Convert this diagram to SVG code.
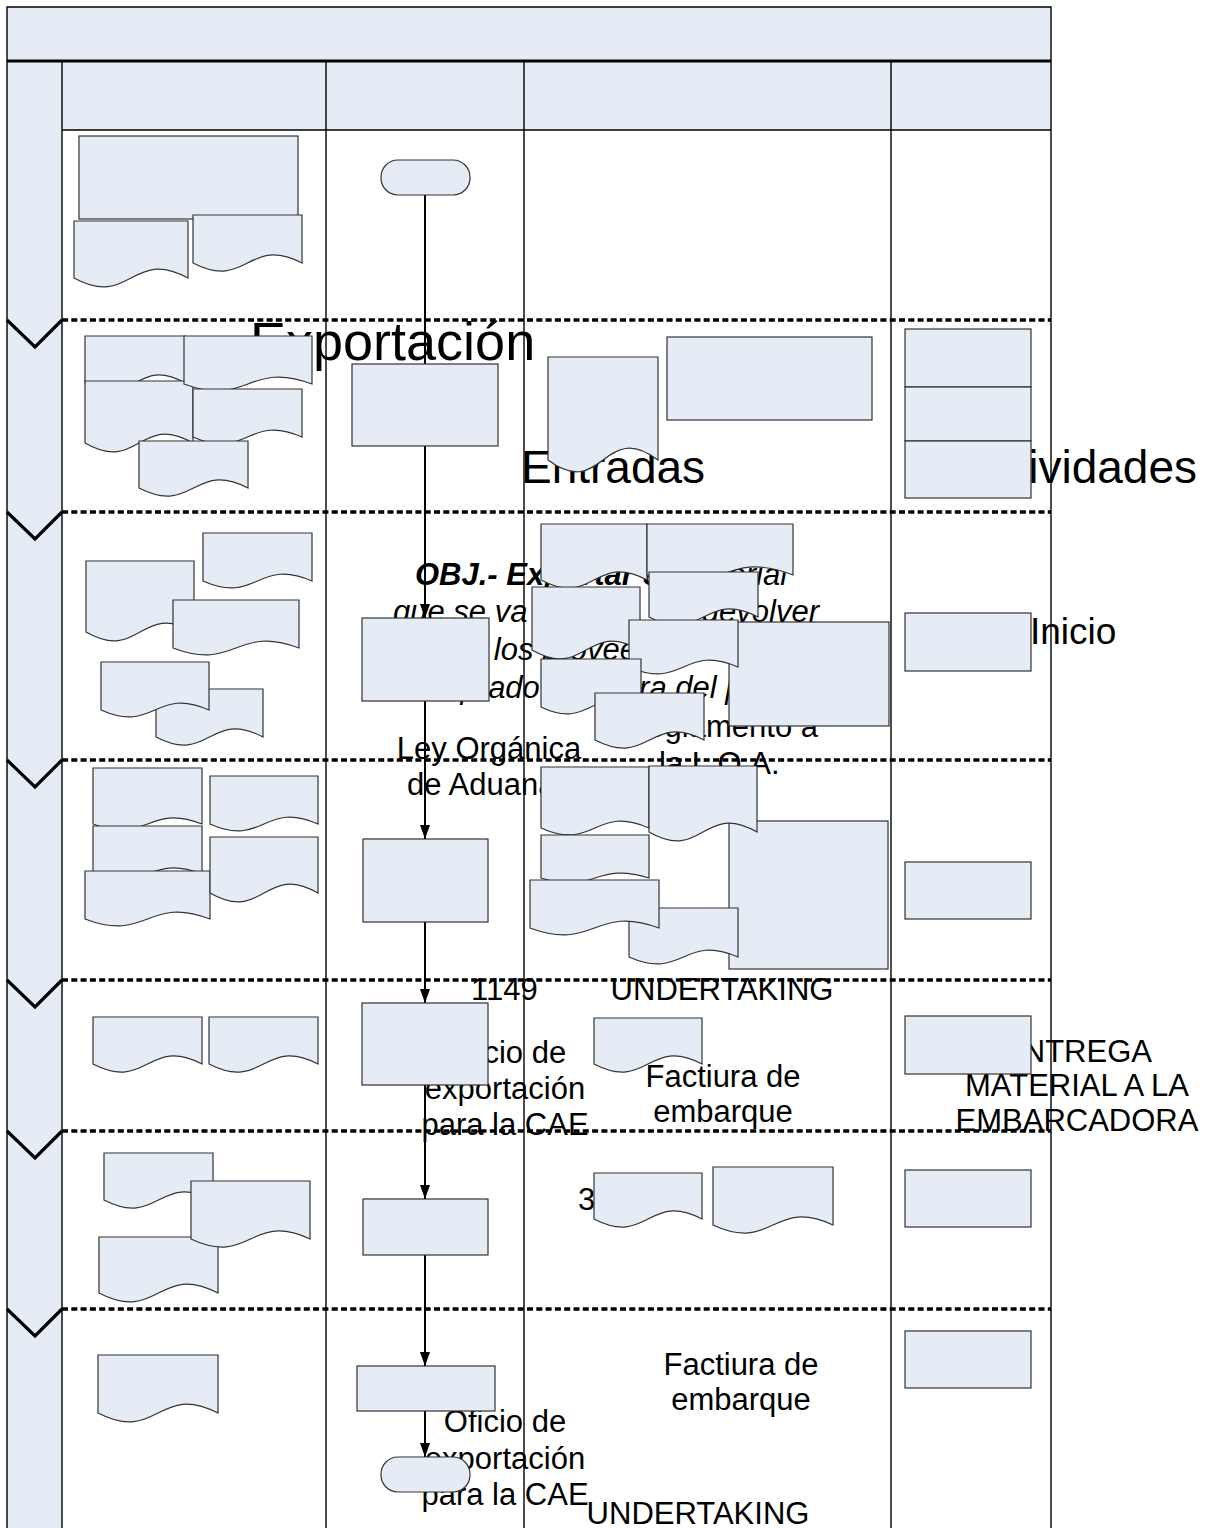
<svg xmlns="http://www.w3.org/2000/svg" width="1213" height="1528" viewBox="0 0 1213 1528">
<defs>
<style>
.band{fill:#E6ECF6}
.n{fill:#E6ECF6;stroke:#333;stroke-width:1.2}
.lane{stroke:#000;stroke-width:1.4;fill:none}
.sep{stroke:#000;stroke-width:3.5;stroke-dasharray:6 3.3;fill:none}
.chev{stroke:#000;stroke-width:3.2;fill:none}
.c{stroke:#000;stroke-width:2;fill:none}
.t{font-family:"Liberation Sans",Arial,sans-serif;font-size:31px;fill:#000}
.m{text-anchor:middle}
.i{font-style:italic}
.b{font-weight:bold}
</style>
<marker id="ah" viewBox="0 0 14 10" refX="14" refY="5" markerWidth="14" markerHeight="10" markerUnits="userSpaceOnUse" orient="auto">
<path d="M0,0 L14,5 L0,10 Z" fill="#000"/>
</marker>
</defs>

<!-- pool background -->
<g id="pool">
<rect x="0" y="0" width="1213" height="1528" fill="#fff"/>
<rect class="band" x="7" y="7" width="1044" height="54"/>
<rect class="band" x="62" y="61" width="989" height="69"/>
<rect class="band" x="7" y="61" width="55" height="1467"/>
</g>

<!-- free labels -->
<g id="labels" class="t">
<text x="250" y="360" style="font-size:54px">Exportación</text>
<text x="521" y="483" style="font-size:46px">Entradas</text>
<text x="1197" y="483" style="font-size:46px;text-anchor:end">Actividades</text>
<text x="1030" y="644" style="font-size:37px">Inicio</text>
<text class="i" y="585"><tspan x="415" class="b">OBJ.-  Exportar el</tspan> material</text>
<text class="i" y="622"><tspan x="393">que se va</tspan><tspan x="676">a devolver</tspan></text>
<text class="i" x="468" y="660">a los proveedores</text>
<text class="i" y="698"><tspan x="402">comprado</tspan><tspan x="596">fuera del país</tspan></text>
<text x="818" y="737" style="text-anchor:end">Reglamento a</text>
<text x="659" y="774">la L.O.A.</text>
<text class="m" x="489" y="759">Ley Orgánica</text>
<text class="m" x="489" y="795">de Aduanas</text>
<text x="471" y="1000">1149</text>
<text class="m" x="722" y="1000">UNDERTAKING</text>
<text class="m" x="505" y="1063">Oficio de</text>
<text class="m" x="505" y="1099">exportación</text>
<text class="m" x="505" y="1135">para la CAE</text>
<text class="m" x="723" y="1087">Factiura de</text>
<text class="m" x="723" y="1122">embarque</text>
<text class="m" x="1077" y="1062">ENTREGA</text>
<text class="m" x="1077" y="1096">MATERIAL A LA</text>
<text class="m" x="1077" y="1131">EMBARCADORA</text>
<text x="578" y="1210">3</text>
<text class="m" x="741" y="1375">Factiura de</text>
<text class="m" x="741" y="1410">embarque</text>
<text class="m" x="505" y="1432">Oficio de</text>
<text class="m" x="505" y="1469">exportación</text>
<text class="m" x="505" y="1505">para la CAE</text>
<text class="m" x="698" y="1524">UNDERTAKING</text>
</g>

<!-- lanes and phase separators -->
<g id="lanes">
<path class="lane" d="M7,1528 V7 H1051 V1528"/>
<path d="M7,61 H1051" stroke="#000" stroke-width="3"/>
<path class="lane" d="M62,130 H1051"/>
<path class="lane" d="M62,61 V1528 M326,61 V1528 M524,61 V1528 M891,61 V1528"/>
<path class="sep" d="M62,320 H1051 M62,512 H1051 M62,760 H1051 M62,980 H1051 M62,1131 H1051 M62,1309 H1051"/>
<path class="chev" d="M7,320 L35,347 L62,320 M7,512 L35,539 L62,512 M7,760 L35,787 L62,760 M7,980 L35,1007 L62,980 M7,1131 L35,1158 L62,1131 M7,1309 L35,1336 L62,1309"/>
</g>

<!-- connectors -->
<g id="connectors">
<path class="c" d="M425,195 V364"/>
<path class="c" d="M425,446 V618" marker-end="url(#ah)"/>
<path class="c" d="M425,701 V839" marker-end="url(#ah)"/>
<path class="c" d="M425,922 V1003" marker-end="url(#ah)"/>
<path class="c" d="M425,1085 V1199" marker-end="url(#ah)"/>
<path class="c" d="M425,1255 V1366" marker-end="url(#ah)"/>
<path class="c" d="M425,1411 V1457" marker-end="url(#ah)"/>
</g>

<!-- phase 1 -->
<g id="r1-rect"><rect class="n" x="79" y="136" width="219" height="83"/></g>
<g id="r1-doc1"><path class="n" d="M74 221 H188 V278 c-57 -31 -57 31 -114 0 Z"/></g>
<g id="r1-doc2"><path class="n" d="M193 215 H302 V263 c-54.5 -28 -54.5 28 -109 0 Z"/></g>
<g id="start"><rect class="n" x="381" y="160" width="89" height="35" rx="17"/></g>

<!-- phase 2 -->
<g id="r2-doc1"><path class="n" d="M85 336 H185 V383 c-50 -28 -50 28 -100 0 Z"/></g>
<g id="r2-doc3"><path class="n" d="M85 381 H193 V443 c-54 -31 -54 31 -108 0 Z"/></g>
<g id="r2-doc2"><path class="n" d="M184 336 H312 V384 c-64 -24 -64 24 -128 0 Z"/></g>
<g id="r2-doc4"><path class="n" d="M193 389 H302 V437 c-54.5 -24 -54.5 24 -109 0 Z"/></g>
<g id="r2-doc5"><path class="n" d="M139 441 H248 V488 c-54.5 -28 -54.5 28 -109 0 Z"/></g>
<g id="p1"><rect class="n" x="352" y="364" width="146" height="82"/></g>
<g id="r2-in1"><path class="n" d="M548 357 H658 V460 c-55 -41 -55 41 -110 0 Z"/></g>
<g id="r2-in2"><rect class="n" x="667" y="337" width="205" height="83"/></g>
<g id="r2-act1"><rect class="n" x="905" y="329" width="126" height="58"/></g>
<g id="r2-act2"><rect class="n" x="905" y="387" width="126" height="54"/></g>
<g id="r2-act3"><rect class="n" x="905" y="441" width="126" height="57"/></g>

<!-- phase 3 -->
<g id="r3-doc1"><path class="n" d="M203 533 H312 V581 c-54.5 -24 -54.5 24 -109 0 Z"/></g>
<g id="r3-doc2"><path class="n" d="M86 561 H194 V632 c-54 -31 -54 31 -108 0 Z"/></g>
<g id="r3-doc3"><path class="n" d="M173 600 H299 V648 c-63 -24 -63 24 -126 0 Z"/></g>
<g id="r3-doc5"><path class="n" d="M156 689 H263 V737 c-53.5 -28 -53.5 28 -107 0 Z"/></g>
<g id="r3-doc4"><path class="n" d="M101 662 H209 V710 c-54 -24 -54 24 -108 0 Z"/></g>
<g id="p2"><rect class="n" x="362" y="618" width="127" height="83"/></g>
<g id="r3-in1"><path class="n" d="M541 524 H647 V580 c-53 -28 -53 28 -106 0 Z"/></g>
<g id="r3-in2"><path class="n" d="M647 524 H793 V575 c-73 -28 -73 28 -146 0 Z"/></g>
<g id="r3-in3"><path class="n" d="M532 587 H640 V650 c-54 -31 -54 31 -108 0 Z"/></g>
<g id="r3-in4"><path class="n" d="M649 572 H758 V617 c-54.5 -28 -54.5 28 -109 0 Z"/></g>
<g id="r3-in5"><rect class="n" x="729" y="622" width="160" height="104"/></g>
<g id="r3-in6"><path class="n" d="M629 620 H738 V667 c-54.5 -24 -54.5 24 -109 0 Z"/></g>
<g id="r3-in7"><path class="n" d="M541 659 H641 V707 c-50 -24 -50 24 -100 0 Z"/></g>
<g id="r3-in8"><path class="n" d="M595 693 H704 V740 c-54.5 -28 -54.5 28 -109 0 Z"/></g>
<g id="r3-act"><rect class="n" x="905" y="613" width="126" height="58"/></g>

<!-- phase 4 -->
<g id="r4-doc1"><path class="n" d="M93 768 H202 V824 c-54.5 -21 -54.5 21 -109 0 Z"/></g>
<g id="r4-doc3"><path class="n" d="M93 826 H202 V874 c-54.5 -21 -54.5 21 -109 0 Z"/></g>
<g id="r4-doc5"><path class="n" d="M85 871 H210 V919 c-62.5 -24 -62.5 24 -125 0 Z"/></g>
<g id="r4-doc2"><path class="n" d="M210 776 H318 V824 c-54 -24 -54 24 -108 0 Z"/></g>
<g id="r4-doc4"><path class="n" d="M210 837 H318 V893 c-54 -31 -54 31 -108 0 Z"/></g>
<g id="p3"><rect class="n" x="363" y="839" width="125" height="83"/></g>
<g id="r4-in1"><path class="n" d="M541 767 H649 V828 c-54 -24 -54 24 -108 0 Z"/></g>
<g id="r4-in3"><path class="n" d="M541 835 H649 V878 c-54 -17 -54 17 -108 0 Z"/></g>
<g id="r4-in6"><rect class="n" x="729" y="821" width="159" height="148"/></g>
<g id="r4-in2"><path class="n" d="M649 766 H757 V832 c-54 -31 -54 31 -108 0 Z"/></g>
<g id="r4-in5"><path class="n" d="M629 908 H738 V957 c-54.5 -24 -54.5 24 -109 0 Z"/></g>
<g id="r4-in4"><path class="n" d="M530 880 H659 V928 c-64.5 -24 -64.5 24 -129 0 Z"/></g>
<g id="r4-act"><rect class="n" x="905" y="862" width="126" height="57"/></g>

<!-- phase 5 -->
<g id="r5-doc1"><path class="n" d="M93 1017 H202 V1064 c-54.5 -28 -54.5 28 -109 0 Z"/></g>
<g id="r5-doc2"><path class="n" d="M209 1017 H318 V1064 c-54.5 -28 -54.5 28 -109 0 Z"/></g>
<g id="p4"><rect class="n" x="362" y="1003" width="126" height="82"/></g>
<g id="r5-in1"><path class="n" d="M594 1018 H702 V1064 c-54 -28 -54 28 -108 0 Z"/></g>
<g id="r5-act"><rect class="n" x="905" y="1016" width="126" height="58"/></g>

<!-- phase 6 -->
<g id="r6-doc1"><path class="n" d="M104 1153 H213 V1200 c-54.5 -28 -54.5 28 -109 0 Z"/></g>
<g id="r6-doc3"><path class="n" d="M99 1237 H218 V1293 c-59.5 -31 -59.5 31 -119 0 Z"/></g>
<g id="r6-doc2"><path class="n" d="M191 1181 H310 V1239 c-59.5 -28 -59.5 28 -119 0 Z"/></g>
<g id="p5"><rect class="n" x="363" y="1199" width="125" height="56"/></g>
<g id="r6-in1"><path class="n" d="M594 1173 H702 V1219 c-54 -28 -54 28 -108 0 Z"/></g>
<g id="r6-in2"><path class="n" d="M713 1167 H833 V1225 c-60 -28 -60 28 -120 0 Z"/></g>
<g id="r6-act"><rect class="n" x="905" y="1170" width="126" height="57"/></g>

<!-- phase 7 -->
<g id="r7-doc1"><path class="n" d="M98 1355 H218 V1413 c-60 -31 -60 31 -120 0 Z"/></g>
<g id="p6"><rect class="n" x="357" y="1366" width="138" height="45"/></g>
<g id="end"><rect class="n" x="381" y="1457" width="89" height="35" rx="17"/></g>
<g id="r7-act"><rect class="n" x="905" y="1331" width="126" height="57"/></g>
</svg>
